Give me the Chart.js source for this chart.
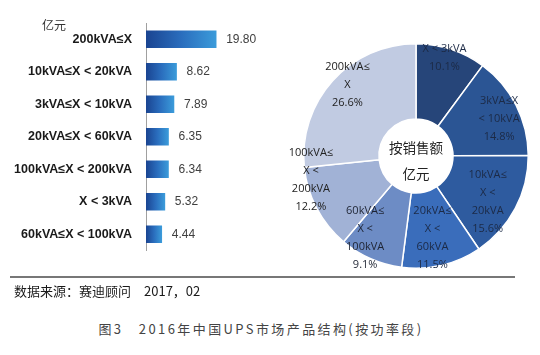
<!DOCTYPE html>
<html><head><meta charset="utf-8">
<script src="https://cdn.jsdelivr.net/npm/chart.js@4"></script>
<style>
html,body{margin:0;padding:0;background:#fff;width:540px;height:355px;overflow:hidden;}
#wrap{position:relative;width:540px;height:355px;}
.t{position:absolute;white-space:nowrap;font-family:"Noto Sans CJK SC","Noto Sans",sans-serif;line-height:1;}
</style></head><body>
<div id="wrap">
<canvas id="bar" width="275" height="272" style="position:absolute;left:0;top:0;"></canvas>
<canvas id="pie" width="257" height="246" style="position:absolute;left:283px;top:33px;"></canvas>
<div class="t" style="left:42px;top:19px;font-size:12px;color:#333;">亿元</div>
<div style="position:absolute;left:10px;top:276px;width:505px;height:0;border-top:2px solid #777;"></div>
<div class="t" style="left:14px;top:284px;font-size:13px;color:#1a1a1a;">数据来源：赛迪顾问　2017，02</div>
<div class="t" style="left:0;width:522px;text-align:center;top:322px;font-size:13px;letter-spacing:2.4px;color:#444;">图3　2016年中国UPS市场产品结构(按功率段)</div>
</div>
<script>
// ---- data ----
const barCategories = ['200kVA≤X', '10kVA≤X < 20kVA', '3kVA≤X < 10kVA', '20kVA≤X < 60kVA', '100kVA≤X < 200kVA', 'X < 3kVA', '60kVA≤X < 100kVA'];
const barValues = [19.80, 8.62, 7.89, 6.35, 6.34, 5.32, 4.44];
const pieCategories = ['X<3kVA', '3kVA≤X<10kVA', '10kVA≤X<20kVA', '20kVA≤X<60kVA', '60kVA≤X<100kVA', '100kVA≤X<200kVA', '200kVA≤X'];
const pieShares = [10.1, 14.8, 15.6, 11.5, 9.1, 12.2, 26.6];
const pieLabelLines = [['X < 3kVA'], ['3kVA≤X', '< 10kVA'], ['10kVA≤', 'X <', '20kVA'], ['20kVA≤', 'X <', '60kVA'], ['60kVA≤', 'X <', '100kVA'], ['100kVA≤', 'X <', '200kVA'], ['200kVA≤', 'X']];
const centerLines = ['按销售额', '亿元'];

// ---- styles ----
const pieColors = ['#264579', '#2b5594', '#2e5b9f', '#3a6dbb', '#6d8cc5', '#a1b2d6', '#c1cbe2'];
const pieTextColors = ['#1c2a46', '#1c2a46', '#1c2a46', '#1c2a46', '#1e2433', '#222', '#222'];
// label placement: [radius fraction, angle offset in degrees]
const pieLabelPlace = [[0.91, -2], [0.81, 3], [0.76, 5], [0.745, 2], [0.86, 8], [0.96, 15], [0.88, 4]];

function barGrad(c) {
  const ch = c.chart, xs = ch.scales.x;
  if (!xs || c.type !== 'data') return '#2a6fc0';
  const x0 = xs.getPixelForValue(0), x1 = xs.getPixelForValue(c.raw);
  if (!isFinite(x0) || !isFinite(x1) || x1 <= x0) return '#2a6fc0';
  const g = ch.ctx.createLinearGradient(x0, 0, x1, 0);
  g.addColorStop(0, '#1a4491');
  g.addColorStop(0.5, '#2a6dbd');
  g.addColorStop(1, '#3b9bda');
  return g;
}

const valueLabels = {
  id: 'valueLabels',
  afterDatasetsDraw(chart) {
    const ctx = chart.ctx, meta = chart.getDatasetMeta(0);
    ctx.save();
    ctx.font = '12px "Liberation Sans", Arial, sans-serif';
    ctx.fillStyle = '#404040';
    ctx.textBaseline = 'middle';
    ctx.textAlign = 'left';
    meta.data.forEach((el, i) => ctx.fillText(barValues[i].toFixed(2), el.x + 10, el.y));
    ctx.restore();
  }
};

new Chart(document.getElementById('bar'), {
  type: 'bar',
  data: { labels: barCategories, datasets: [{ data: barValues, backgroundColor: barGrad, borderWidth: 0, barThickness: 17 }] },
  options: {
    indexAxis: 'y', responsive: false, animation: false, devicePixelRatio: 1,
    layout: { padding: { top: 23, bottom: 8, left: 0, right: 5 } },
    plugins: { legend: { display: false }, tooltip: { enabled: false } },
    scales: {
      x: { display: false, min: 0, max: 35 },
      y: {
        grid: { display: false, drawTicks: false },
        border: { display: true, color: '#a0a0a0', width: 1 },
        ticks: { padding: 14, color: '#1a1a1a', font: { family: '"Liberation Sans", Arial, sans-serif', size: 12.5, weight: 'bold' } },
        afterFit(s) { s.width = 146; }
      }
    }
  },
  plugins: [valueLabels]
});

const sliceLabels = {
  id: 'sliceLabels',
  afterDatasetsDraw(chart) {
    const ctx = chart.ctx, meta = chart.getDatasetMeta(0);
    ctx.save();
    ctx.font = '11px "Open Sans", "Noto Sans", sans-serif';
    ctx.textAlign = 'center';
    ctx.textBaseline = 'middle';
    meta.data.forEach((el, i) => {
      const p = el.getProps(['x', 'y', 'startAngle', 'endAngle', 'outerRadius'], true);
      const [f, off] = pieLabelPlace[i];
      const a = (p.startAngle + p.endAngle) / 2 + off * Math.PI / 180;
      const r = f * p.outerRadius;
      const cx = p.x + Math.cos(a) * r, cy = p.y + Math.sin(a) * r;
      const lines = pieLabelLines[i].concat([pieShares[i].toFixed(1) + '%']);
      const lh = 18;
      ctx.fillStyle = pieTextColors[i];
      lines.forEach((t, k) => ctx.fillText(t, cx, cy + (k - (lines.length - 1) / 2) * lh));
    });
    // center text
    const el = meta.data[0];
    ctx.fillStyle = '#222';
    ctx.font = '13.5px "Noto Sans CJK SC", sans-serif';
    ctx.fillText(centerLines[0], el.x, el.y - 8);
    ctx.fillText(centerLines[1], el.x, el.y + 18);
    ctx.restore();
  }
};

new Chart(document.getElementById('pie'), {
  type: 'doughnut',
  data: { labels: pieCategories, datasets: [{ data: pieShares, backgroundColor: pieColors, borderColor: '#ffffff', borderWidth: 1.5 }] },
  options: {
    responsive: false, animation: false, devicePixelRatio: 1, cutout: '33%',
    layout: { padding: { left: 20, top: 10, right: 11, bottom: 10 } },
    plugins: { legend: { display: false }, tooltip: { enabled: false } }
  },
  plugins: [sliceLabels]
});
</script>
</body></html>
